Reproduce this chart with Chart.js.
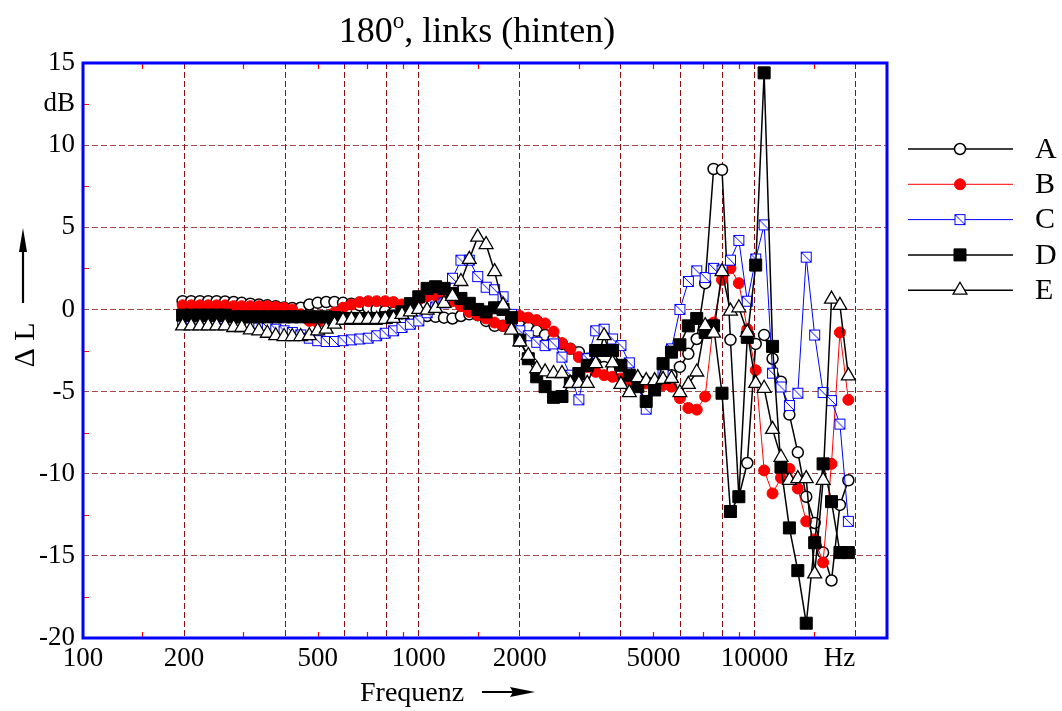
<!DOCTYPE html>
<html>
<head>
<meta charset="utf-8">
<script src="https://cdn.jsdelivr.net/npm/chart.js@4.4.1/dist/chart.umd.min.js"></script>
<style>
  html, body { margin: 0; padding: 0; background: #fff; }
</style>
</head>
<body>
<canvas id="chart" width="1062" height="711"></canvas>
<script>
const FONT = '"Liberation Serif", "Times New Roman", serif';

// 1/12-octave band centre frequencies (Hz)
const freqs = [198, 210, 223, 236, 250, 265, 281, 297,
    315, 334, 354, 375, 397, 420, 445, 472,
    500, 530, 561, 595, 630, 667, 707, 749, 794, 841, 891, 944,
    1000, 1059, 1122, 1189, 1260, 1335, 1414, 1498, 1587, 1682, 1782, 1888,
    2000, 2119, 2245, 2378, 2520, 2670, 2828, 2997, 3175, 3364, 3564, 3776,
    4000, 4238, 4490, 4757, 5040, 5339, 5657, 5993, 6350, 6727, 7127, 7551,
    8000, 8476, 8980, 9514, 10079, 10679, 11314, 11986, 12699, 13454, 14254, 15102,
    16000, 16951, 17959, 19027];

// level difference per position (dB)
const serA = [0.5, 0.5, 0.5, 0.5, 0.5, 0.48, 0.45,
    0.4, 0.35, 0.3, 0.25, 0.2,
    0.12, 0.08, 0.1,
    0.3, 0.4, 0.45, 0.45, 0.4, 0.35,
    0.25, 0.1, 0.0, -0.1, -0.2, -0.25, -0.3,
    -0.35, -0.4, -0.45, -0.5, -0.55, -0.4, -0.3, -0.35,
    -0.7, -1.0, -1.0, -1.0, -1.0,
    -1.1, -1.3, -1.55, -1.8, -2.1, -2.4, -2.6,
    -3.0, -3.3, -3.5, -3.7, -3.9, -4.1, -4.3, -4.4, -4.5, -4.3, -4.0,
    -3.5, -2.7, -1.8, 1.6, 8.55, 8.5, -1.85, -11.4, -9.35,
    -2.1, -1.55, -3.0, -4.4, -6.4, -8.7, -11.4, -13.0, -14.8, -16.5, -11.9, -10.4];

const serB = [0.25, 0.25, 0.25, 0.25, 0.25, 0.25, 0.2, 0.2, 0.2, 0.2, 0.2, 0.15, 0.1, 0.0,
    -0.3, -0.7, -0.8, -0.5, -0.2, 0.1, 0.3,
    0.45, 0.5, 0.5, 0.5, 0.45, 0.3, 0.3,
    0.6, 0.8, 0.85, 0.75, 0.5, 0.2,
    -0.15, -0.35, -0.55, -0.8, -1.0, -0.7,
    -0.4, -0.5, -0.65, -0.85, -1.35, -2.05, -2.4, -2.9, -3.5, -3.8,
    -4.0, -4.1, -4.2, -4.3, -4.4, -4.5, -4.6, -4.6, -4.7,
    -5.4, -6.0, -6.1, -5.3, -0.8, 1.8, 2.5, 1.6, -1.2,
    -3.7, -9.8, -11.2, -10.25, -9.7, -10.9, -12.9, -14.0, -15.4, -9.4, -1.4, -5.5];

const serC = [-0.7, -0.7, -0.7, -0.7, -0.7, -0.7, -0.7, -0.8, -0.9, -1.0, -1.1, -1.2, -1.3, -1.4,
    -1.55, -1.75, -1.9, -1.95, -1.95, -1.9, -1.85, -1.8, -1.75, -1.6, -1.45, -1.3, -1.1, -0.9, -0.7,
    -0.2, 0.15, 0.4, 1.9, 3.0, 3.0, 2.0, 1.35, 1.2, 0.77, -0.3,
    -1.3, -1.6, -2.0, -2.2, -2.1, -2.9, -4.0, -5.5, -3.0, -1.3,
    -1.2, -1.8, -2.2, -3.25, -4.6, -6.07, -4.8, -3.9, -2.4,
    0.0, 1.7, 2.35, 1.94, 2.5, 2.4, 3.0, 4.2, 0.5,
    3.07, 5.15, -3.88, -4.72, -5.85, -5.1, 3.18, -1.56, -5.06, -5.55, -6.98, -12.9];

const serD = [-0.35, -0.35, -0.35, -0.35, -0.35, -0.35,
    -0.45, -0.45, -0.45, -0.45, -0.45, -0.45, -0.45,
    -0.45, -0.45, -0.45, -0.45, -0.45, -0.5, -0.55, -0.55, -0.55, -0.55, -0.55, -0.5, -0.4,
    -0.15, 0.35, 0.77, 1.28, 1.38, 1.28, 0.97, 0.67, 0.37, 0.0, -0.15, 0.1, 0.0, -0.5,
    -1.87, -3.0, -4.1, -4.7, -5.35, -5.3, -4.4, -3.9, -3.4, -2.5,
    -2.5, -2.5, -3.4, -4.0, -4.7, -5.6, -4.9, -3.3, -2.6,
    -2.15, -1.0, -0.55, -1.4, -1.0, -5.1, -12.3, -11.4, -1.7,
    2.7, 14.4, -2.25, -9.6, -13.3, -15.9, -19.1, -14.2, -9.4, -11.7, -14.8, -14.8];

const serE = [-1.0, -1.0, -1.0, -1.0, -1.0, -1.0, -1.1, -1.1, -1.25, -1.3,
    -1.45, -1.6, -1.65, -1.65, -1.65, -1.6, -1.3, -1.2, -0.9,
    -0.65, -0.6, -0.6, -0.6, -0.6, -0.6, -0.55, -0.3, -0.15, 0.0,
    -0.04, 0.06, 0.37, 0.8, 1.7, 3.05, 4.4, 3.95, 2.3, 0.26, -1.26,
    -1.97, -2.8, -3.6, -3.8, -3.9, -3.9, -4.5, -4.5, -4.5, -3.3,
    -1.6, -3.25, -4.56, -5.06, -4.15, -4.33, -4.33, -4.26, -4.2,
    -5.06, -4.56, -3.81, -0.99, -1.44, 2.3, -0.1, 0.1, -1.4,
    -4.5, -4.8, -7.3, -9.0, -10.4, -10.3, -10.3, -16.1, -10.4, 0.63, 0.25, -4.04];

const seriesNames = ['A', 'B', 'C', 'D', 'E'];

// axis ticks
const xTickValues = [100, 150, 200, 300, 400, 500, 600, 700, 800, 900, 1000, 1500, 2000,
    3000, 4000, 5000, 6000, 7000, 8000, 9000, 10000, 15000, 17900, 20000];
const xGridValues = [200, 400, 600, 800, 1000, 2000, 4000, 6000, 8000, 10000, 20000];
const xMinorValues = [150, 300, 500, 700, 900, 1500, 3000, 5000, 7000, 9000, 15000];
const xTickLabels = {100: '100', 200: '200', 500: '500', 1000: '1000', 2000: '2000',
    5000: '5000', 10000: '10000', 17900: 'Hz'};
const yMinorValues = [12.5, 7.5, 2.5, -2.5, -7.5, -12.5, -17.5];

const gridV = '#8b1010';
const gridH = 'rgba(150, 40, 40, 0.85)';

// open square with a diagonal stroke
function makeSquareMarker() {
    const c = document.createElement('canvas');
    c.width = 13; c.height = 13;
    const g = c.getContext('2d');
    g.fillStyle = '#fff';
    g.fillRect(1, 1, 11, 11);
    g.strokeStyle = '#0000ff';
    g.lineWidth = 1;
    g.strokeRect(1.5, 1.5, 10, 10);
    g.beginPath();
    g.moveTo(2, 2);
    g.lineTo(11, 11);
    g.stroke();
    return c;
}

const squareMarker = makeSquareMarker();

function toPoints(values) {
    return freqs.map((f, i) => ({ x: f, y: values[i] }));
}

const seriesStyles = [
    { data: serA, line: '#000', lineWidth: 1.5, pointStyle: 'circle', radius: 5.5, fill: '#fff', stroke: '#000', pw: 1.5 },
    { data: serB, line: '#ff0000', lineWidth: 1, pointStyle: 'circle', radius: 5.5, fill: '#ff0000', stroke: '#ff0000', pw: 1 },
    { data: serC, line: '#0000ff', lineWidth: 1, pointStyle: squareMarker, radius: 6, fill: '#fff', stroke: '#0000ff', pw: 1 },
    { data: serD, line: '#000', lineWidth: 1.5, pointStyle: 'rect', radius: 8.5, fill: '#000', stroke: '#000', pw: 1 },
    { data: serE, line: '#000', lineWidth: 1.5, pointStyle: 'triangle', radius: 8, fill: '#fff', stroke: '#000', pw: 1.3 }
];

const datasets = seriesStyles.map((s, i) => ({
    label: seriesNames[i],
    data: toPoints(s.data),
    borderColor: s.line,
    borderWidth: s.lineWidth,
    pointStyle: s.pointStyle,
    pointRadius: s.radius,
    pointBackgroundColor: s.fill,
    pointBorderColor: s.stroke,
    pointBorderWidth: s.pw,
    tension: 0,
    fill: false,
    order: 5 - i
}));

// frame, minor ticks, titles, arrows and legend
const decorPlugin = {
    id: 'decor',
    afterDraw(chart) {
        const { ctx, chartArea: a, scales: { x, y } } = chart;
        ctx.save();

        // red minor ticks
        ctx.strokeStyle = '#ff0000';
        ctx.lineWidth = 1.2;
        ctx.beginPath();
        xMinorValues.forEach(v => {
            const px = Math.round(x.getPixelForValue(v)) + 0.5;
            ctx.moveTo(px, a.bottom); ctx.lineTo(px, a.bottom - 6);
            ctx.moveTo(px, a.top); ctx.lineTo(px, a.top + 6);
        });
        yMinorValues.forEach(v => {
            const py = Math.round(y.getPixelForValue(v)) + 0.5;
            ctx.moveTo(a.left, py); ctx.lineTo(a.left + 6, py);
        });
        ctx.stroke();

        // blue frame
        ctx.strokeStyle = '#0000ff';
        ctx.lineWidth = 3;
        ctx.strokeRect(a.left, a.top, a.right - a.left, a.bottom - a.top);

        // title with superscript o
        ctx.fillStyle = '#000';
        ctx.textBaseline = 'alphabetic';
        ctx.textAlign = 'left';
        const big = '36px ' + FONT, small = '23px ' + FONT;
        ctx.font = big;
        const w1 = ctx.measureText('180').width;
        const w3 = ctx.measureText(', links (hinten)').width;
        ctx.font = small;
        const w2 = ctx.measureText('o').width;
        let tx = 477 - (w1 + w2 + w3) / 2;
        const ty = 42;
        ctx.font = big; ctx.fillText('180', tx, ty); tx += w1;
        ctx.font = small; ctx.fillText('o', tx, ty - 14); tx += w2;
        ctx.font = big; ctx.fillText(', links (hinten)', tx, ty);

        // y axis title with arrow
        ctx.save();
        ctx.translate(34, 345);
        ctx.rotate(-Math.PI / 2);
        ctx.font = '30px ' + FONT;
        ctx.textAlign = 'center';
        ctx.fillText('\u0394 L', 0, 0);
        ctx.restore();
        ctx.strokeStyle = '#000';
        ctx.lineWidth = 2.2;
        ctx.beginPath(); ctx.moveTo(23, 303); ctx.lineTo(23, 245); ctx.stroke();
        ctx.beginPath(); ctx.moveTo(23, 228); ctx.lineTo(19, 252); ctx.lineTo(27, 252); ctx.closePath(); ctx.fill();

        // x axis title with arrow
        ctx.font = '28px ' + FONT;
        ctx.textAlign = 'left';
        ctx.fillText('Frequenz', 360, 701);
        ctx.lineWidth = 2;
        ctx.beginPath(); ctx.moveTo(482, 692); ctx.lineTo(515, 692); ctx.stroke();
        ctx.beginPath(); ctx.moveTo(535, 692); ctx.lineTo(510, 687); ctx.lineTo(513, 692); ctx.lineTo(510, 697); ctx.closePath(); ctx.fill();

        // legend
        chart.data.datasets.forEach((ds, i) => {
            const ly = 149 + i * 35.3;
            ctx.strokeStyle = ds.borderColor;
            ctx.lineWidth = ds.borderWidth;
            ctx.beginPath(); ctx.moveTo(908, ly); ctx.lineTo(1013, ly); ctx.stroke();
            ctx.fillStyle = ds.pointBackgroundColor;
            ctx.strokeStyle = ds.pointBorderColor;
            ctx.lineWidth = ds.pointBorderWidth;
            Chart.helpers.drawPoint(ctx, {
                pointStyle: ds.pointStyle, radius: ds.pointRadius,
                borderWidth: ds.pointBorderWidth, rotation: 0
            }, 960, ly);
            ctx.fillStyle = '#000';
            ctx.font = '30px ' + FONT;
            ctx.textAlign = 'left';
            ctx.textBaseline = 'middle';
            ctx.fillText(ds.label, 1035, ly + 1);
        });
        ctx.restore();
    }
};

new Chart(document.getElementById('chart'), {
    type: 'line',
    data: { datasets },
    options: {
        responsive: false,
        animation: false,
        events: [],
        layout: { padding: { left: 0, right: 175, top: 63, bottom: 0 } },
        plugins: {
            legend: { display: false },
            tooltip: { enabled: false },
            title: { display: false }
        },
        scales: {
            x: {
                type: 'logarithmic',
                min: 100,
                max: 24800,
                afterBuildTicks: s => { s.ticks = xTickValues.map(v => ({ value: v })); },
                afterFit: s => { s.height = 73; },
                grid: {
                    color: c => xGridValues.includes(c.tick.value) ? gridV : 'rgba(0,0,0,0)',
                    lineWidth: 1,
                    drawTicks: false
                },
                border: { display: false, dash: [6, 3] },
                ticks: {
                    autoSkip: false,
                    maxRotation: 0,
                    minRotation: 0,
                    padding: 5,
                    color: '#000',
                    font: { family: FONT, size: 27 },
                    callback: v => xTickLabels[v] || ''
                }
            },
            y: {
                min: -20,
                max: 15,
                afterFit: s => { s.width = 83; },
                grid: {
                    color: c => {
                        const v = Math.round(c.tick.value * 10) / 10;
                        return (v % 5 === 0 && v > -20 && v < 15) ? gridH : 'rgba(0,0,0,0)';
                    },
                    lineWidth: 1,
                    drawTicks: false
                },
                border: { display: false, dash: [6, 3] },
                ticks: {
                    stepSize: 2.5,
                    autoSkip: false,
                    padding: 8,
                    color: '#000',
                    font: { family: FONT, size: 27 },
                    callback: v => {
                        const r = Math.round(v * 10) / 10;
                        if (r === 12.5) return 'dB';
                        return r % 5 === 0 ? String(r) : '';
                    }
                }
            }
        }
    },
    plugins: [decorPlugin]
});
</script>
</body>
</html>
